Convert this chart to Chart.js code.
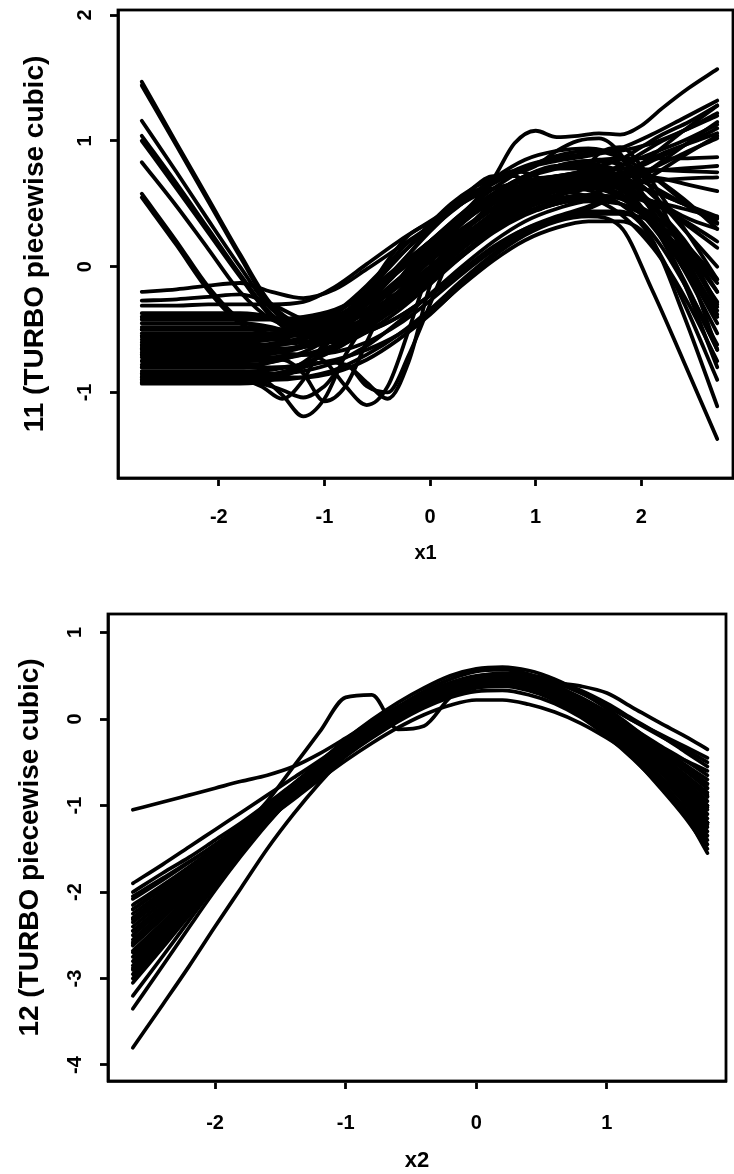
<!DOCTYPE html>
<html><head><meta charset="utf-8">
<script src="https://cdn.jsdelivr.net/npm/chart.js@4.4.1/dist/chart.umd.min.js"></script>
<style>
html,body{margin:0;padding:0;background:#fff;}
#wrap{position:relative;width:734px;height:1174px;background:#fff;}
canvas{position:absolute;left:0;}
#c1{top:0;} #c2{top:590px;}
</style></head><body>
<div id="wrap"><canvas id="c1" width="734" height="590"></canvas><canvas id="c2" width="734" height="584"></canvas></div>
<script>
// ---------- Panel 1 : x1 ----------
const x1Grid = [-2.73,-2.4,-2.1,-1.8,-1.5,-1.2,-0.9,-0.6,-0.3,0,0.3,0.6,0.9,1.2,1.5,1.8,2.1,2.4,2.72];
const x1GridFine = [-2.73,-2.2,-1.8,-1.6,-1.4,-1.2,-1.0,-0.8,-0.6,-0.4,-0.2,0,0.2,0.4,0.6,0.8,1.0,1.2,1.4,1.6,1.8,2.0,2.2,2.45,2.72];
const f11HighStart = [
  [1.47,0.98,0.54,0.1,-0.3,-0.45,-0.42,-0.3,-0.12,0.08,0.28,0.46,0.58,0.65,0.68,0.7,0.78,0.9,1.02],
  [1.44,0.96,0.52,0.08,-0.33,-0.5,-0.5,-0.42,-0.26,-0.06,0.14,0.32,0.46,0.54,0.57,0.54,0.42,0.2,-0.1],
  [1.16,0.75,0.37,0.0,-0.34,-0.44,-0.36,-0.2,0.0,0.2,0.4,0.58,0.72,0.8,0.82,0.76,0.64,0.5,0.34],
  [1.04,0.66,0.3,-0.06,-0.38,-0.5,-0.46,-0.34,-0.16,0.04,0.24,0.42,0.56,0.64,0.66,0.62,0.48,0.22,-0.2],
  [1.0,0.62,0.27,-0.08,-0.4,-0.55,-0.55,-0.46,-0.3,-0.1,0.1,0.3,0.46,0.56,0.63,0.72,0.84,0.96,1.1],
  [0.83,0.48,0.14,-0.2,-0.42,-0.48,-0.4,-0.24,-0.04,0.17,0.38,0.56,0.7,0.78,0.8,0.72,0.5,0.14,-0.32],
  [0.58,0.2,-0.16,-0.42,-0.5,-0.52,-0.48,-0.37,-0.2,0.0,0.2,0.39,0.53,0.62,0.66,0.66,0.6,0.5,0.38],
  [0.55,0.17,-0.19,-0.45,-0.54,-0.6,-0.58,-0.48,-0.32,-0.12,0.08,0.27,0.41,0.5,0.54,0.5,0.36,0.08,-0.38]
];
const f11Band = [
  [-0.2,-0.18,-0.15,-0.13,-0.2,-0.25,-0.18,-0.02,0.15,0.32,0.5,0.66,0.78,0.84,0.88,0.94,1.05,1.18,1.32],
  [-0.27,-0.26,-0.24,-0.22,-0.3,-0.42,-0.48,-0.42,-0.28,-0.1,0.1,0.28,0.42,0.5,0.56,0.68,0.88,1.08,1.28],
  [-0.31,-0.31,-0.3,-0.3,-0.3,-0.28,-0.16,0.02,0.2,0.36,0.52,0.68,0.8,0.86,0.9,0.92,0.98,1.08,1.2],
  [-0.37,-0.37,-0.37,-0.37,-0.4,-0.48,-0.52,-0.45,-0.3,-0.1,0.1,0.28,0.42,0.5,0.54,0.55,0.52,0.46,0.39],
  [-0.42,-0.42,-0.42,-0.42,-0.42,-0.4,-0.34,-0.22,-0.04,0.16,0.35,0.52,0.65,0.72,0.75,0.72,0.58,0.3,0.0],
  [-0.45,-0.45,-0.45,-0.45,-0.48,-0.55,-0.58,-0.52,-0.4,-0.23,-0.04,0.15,0.3,0.4,0.48,0.6,0.78,0.96,1.15],
  [-0.5,-0.5,-0.5,-0.5,-0.5,-0.47,-0.37,-0.2,0.0,0.2,0.4,0.58,0.72,0.8,0.8,0.7,0.45,0.05,-0.35],
  [-0.53,-0.53,-0.53,-0.53,-0.53,-0.52,-0.45,-0.3,-0.1,0.1,0.3,0.47,0.6,0.68,0.72,0.74,0.76,0.78,0.8],
  [-0.56,-0.56,-0.56,-0.56,-0.58,-0.6,-0.6,-0.52,-0.4,-0.23,-0.03,0.16,0.3,0.38,0.42,0.42,0.36,0.18,-0.13],
  [-0.6,-0.6,-0.6,-0.6,-0.58,-0.52,-0.38,-0.16,0.08,0.3,0.5,0.7,0.85,0.92,0.94,0.88,0.72,0.52,0.35],
  [-0.63,-0.63,-0.63,-0.63,-0.62,-0.6,-0.53,-0.4,-0.22,-0.02,0.18,0.37,0.52,0.62,0.66,0.64,0.5,0.18,-0.3],
  [-0.66,-0.66,-0.66,-0.66,-0.68,-0.7,-0.68,-0.6,-0.46,-0.27,-0.06,0.13,0.28,0.38,0.46,0.58,0.72,0.88,1.04],
  [-0.7,-0.7,-0.7,-0.7,-0.68,-0.62,-0.5,-0.34,-0.15,0.06,0.27,0.46,0.61,0.7,0.72,0.62,0.36,-0.02,-0.53],
  [-0.72,-0.72,-0.72,-0.72,-0.72,-0.7,-0.64,-0.52,-0.35,-0.14,0.08,0.28,0.43,0.52,0.56,0.56,0.5,0.37,0.2],
  [-0.75,-0.75,-0.75,-0.75,-0.74,-0.7,-0.62,-0.48,-0.3,-0.08,0.14,0.34,0.5,0.6,0.62,0.56,0.34,-0.1,-0.66],
  [-0.78,-0.78,-0.78,-0.78,-0.76,-0.68,-0.54,-0.34,-0.1,0.14,0.36,0.56,0.71,0.8,0.84,0.86,0.86,0.86,0.87],
  [-0.8,-0.8,-0.8,-0.8,-0.8,-0.78,-0.74,-0.66,-0.54,-0.37,-0.15,0.05,0.21,0.31,0.36,0.36,0.2,-0.28,-0.9],
  [-0.83,-0.83,-0.83,-0.83,-0.82,-0.77,-0.66,-0.5,-0.3,-0.08,0.14,0.35,0.5,0.6,0.64,0.62,0.52,0.35,0.15],
  [-0.85,-0.85,-0.85,-0.85,-0.85,-0.83,-0.76,-0.63,-0.44,-0.22,0.0,0.2,0.36,0.46,0.52,0.5,0.36,0.02,-0.45],
  [-0.88,-0.88,-0.88,-0.88,-0.86,-0.78,-0.64,-0.45,-0.22,0.0,0.22,0.43,0.6,0.71,0.76,0.78,0.77,0.76,0.75],
  [-0.9,-0.9,-0.9,-0.9,-0.9,-0.88,-0.82,-0.7,-0.54,-0.34,-0.11,0.1,0.27,0.38,0.44,0.44,0.22,-0.38,-1.11],
  [-0.93,-0.93,-0.93,-0.93,-0.9,-0.8,-0.62,-0.38,-0.12,0.12,0.34,0.54,0.7,0.8,0.84,0.82,0.72,0.54,0.3],
  [-0.68,-0.68,-0.68,-0.68,-0.67,-0.64,-0.56,-0.42,-0.23,-0.01,0.21,0.4,0.55,0.64,0.7,0.8,0.9,1.0,1.13],
  [-0.48,-0.48,-0.48,-0.48,-0.5,-0.54,-0.52,-0.42,-0.25,-0.05,0.15,0.34,0.48,0.57,0.62,0.65,0.68,0.7,0.71],
  [-0.58,-0.58,-0.58,-0.58,-0.57,-0.53,-0.42,-0.24,-0.02,0.2,0.4,0.58,0.71,0.78,0.78,0.66,0.36,-0.12,-0.8],
  [-0.87,-0.87,-0.87,-0.87,-0.88,-0.88,-0.84,-0.74,-0.58,-0.38,-0.14,0.08,0.25,0.36,0.4,0.32,-0.18,-0.75,-1.37],
  [-0.4,-0.4,-0.4,-0.4,-0.41,-0.42,-0.35,-0.21,-0.02,0.18,0.37,0.54,0.66,0.72,0.73,0.66,0.48,0.16,-0.2],
  [-0.65,-0.65,-0.65,-0.65,-0.65,-0.64,-0.58,-0.46,-0.28,-0.06,0.16,0.35,0.5,0.6,0.64,0.64,0.6,0.5,0.4],
  [-0.92,-0.92,-0.92,-0.92,-0.88,-0.76,-0.56,-0.3,-0.04,0.2,0.42,0.62,0.78,0.88,0.92,0.86,0.62,0.08,-0.66]
];
const f11Wiggly = [
  [-0.85,-0.85,-0.85,-0.88,-1.02,-1.19,-1.05,-0.7,-0.45,-0.3,-0.12,0.05,0.25,0.42,0.52,0.58,0.62,0.64,0.66,0.64,0.58,0.46,0.3,0.05,-0.28],
  [-0.9,-0.9,-0.9,-0.95,-1.05,-0.9,-0.6,-0.5,-0.45,-0.3,-0.1,0.1,0.28,0.45,0.56,0.62,0.66,0.68,0.7,0.74,0.8,0.9,1.0,1.1,1.22],
  [-0.8,-0.8,-0.8,-0.78,-0.74,-0.85,-1.07,-0.95,-0.6,-0.25,0.0,0.15,0.3,0.42,0.5,0.56,0.6,0.62,0.62,0.58,0.5,0.36,0.15,-0.2,-0.62],
  [-0.75,-0.75,-0.75,-0.74,-0.72,-0.7,-0.75,-0.95,-1.1,-0.95,-0.5,0.0,0.3,0.45,0.54,0.6,0.64,0.66,0.68,0.7,0.72,0.72,0.7,0.65,0.6],
  [-0.88,-0.88,-0.88,-0.87,-0.84,-0.8,-0.76,-0.78,-0.92,-1.05,-0.75,-0.15,0.25,0.46,0.55,0.58,0.6,0.6,0.58,0.52,0.42,0.26,0.05,-0.3,-0.75],
  [-0.65,-0.65,-0.65,-0.64,-0.62,-0.58,-0.5,-0.4,-0.28,-0.12,0.05,0.2,0.35,0.5,0.7,0.98,1.08,1.03,1.04,1.06,1.05,1.12,1.26,1.42,1.57],
  [-0.92,-0.92,-0.92,-0.93,-0.98,-1.04,-0.95,-0.78,-0.95,-1.0,-0.7,-0.3,0.1,0.35,0.5,0.58,0.62,0.64,0.65,0.62,0.55,0.42,0.22,-0.05,-0.4],
  [-0.55,-0.55,-0.55,-0.55,-0.55,-0.54,-0.48,-0.38,-0.25,-0.08,0.1,0.28,0.44,0.58,0.68,0.74,0.8,0.92,1.0,1.02,0.9,0.6,0.25,-0.2,-0.66],
  [-0.4,-0.4,-0.4,-0.4,-0.42,-0.45,-0.45,-0.38,-0.2,0.05,0.25,0.35,0.45,0.55,0.62,0.66,0.7,0.72,0.75,0.8,0.85,0.95,1.05,1.15,1.28],
  [-0.62,-0.62,-0.62,-0.62,-0.6,-0.56,-0.48,-0.36,-0.2,-0.02,0.16,0.34,0.5,0.62,0.7,0.76,0.72,0.62,0.7,0.9,0.95,0.8,0.55,0.25,-0.1],
  [-0.7,-0.7,-0.7,-0.7,-0.68,-0.64,-0.56,-0.44,-0.28,-0.1,0.1,0.3,0.48,0.6,0.62,0.52,0.45,0.55,0.75,0.85,0.8,0.65,0.5,0.38,0.3],
  [-0.5,-0.5,-0.5,-0.5,-0.5,-0.48,-0.42,-0.3,-0.15,0.02,0.2,0.3,0.45,0.62,0.72,0.72,0.62,0.52,0.52,0.6,0.72,0.82,0.9,0.98,1.06]
];
const x1Ticks = [-2,-1,0,1,2];
const y1Ticks = [-1,0,1,2];

// ---------- Panel 2 : x2 ----------
const x2Grid = [-2.63,-2.4,-2.2,-2.0,-1.8,-1.6,-1.4,-1.2,-1.0,-0.8,-0.6,-0.4,-0.2,0,0.2,0.4,0.6,0.8,1.0,1.2,1.4,1.6,1.77];
const f12Curves = [
  [-2.0,-1.78,-1.6,-1.4,-1.2,-0.98,-0.75,-0.52,-0.28,-0.07,0.12,0.28,0.4,0.47,0.49,0.45,0.36,0.22,0.05,-0.14,-0.33,-0.48,-0.6],
  [-2.08,-1.86,-1.66,-1.45,-1.23,-1.0,-0.76,-0.52,-0.29,-0.08,0.1,0.26,0.38,0.45,0.46,0.41,0.31,0.16,-0.02,-0.23,-0.46,-0.72,-0.95],
  [-2.15,-1.92,-1.71,-1.49,-1.26,-1.03,-0.79,-0.55,-0.32,-0.1,0.09,0.25,0.37,0.44,0.45,0.4,0.29,0.13,-0.06,-0.3,-0.58,-0.9,-1.2],
  [-2.25,-2.0,-1.77,-1.53,-1.29,-1.05,-0.8,-0.56,-0.33,-0.12,0.07,0.23,0.36,0.45,0.48,0.45,0.37,0.24,0.07,-0.13,-0.36,-0.6,-0.8],
  [-2.32,-2.05,-1.81,-1.57,-1.32,-1.07,-0.82,-0.58,-0.35,-0.13,0.06,0.22,0.35,0.43,0.45,0.41,0.31,0.16,-0.03,-0.26,-0.52,-0.8,-1.05],
  [-2.4,-2.12,-1.87,-1.61,-1.35,-1.09,-0.83,-0.58,-0.34,-0.12,0.08,0.25,0.38,0.47,0.51,0.49,0.42,0.3,0.15,-0.02,-0.17,-0.32,-0.45],
  [-2.45,-2.16,-1.9,-1.64,-1.37,-1.1,-0.84,-0.59,-0.36,-0.15,0.04,0.2,0.33,0.41,0.43,0.38,0.27,0.1,-0.1,-0.35,-0.65,-0.98,-1.3],
  [-2.5,-2.2,-1.93,-1.66,-1.38,-1.1,-0.83,-0.57,-0.33,-0.11,0.09,0.26,0.39,0.47,0.5,0.46,0.37,0.23,0.06,-0.13,-0.33,-0.53,-0.7],
  [-2.55,-2.24,-1.96,-1.68,-1.4,-1.12,-0.85,-0.6,-0.37,-0.16,0.03,0.19,0.32,0.4,0.42,0.38,0.28,0.12,-0.08,-0.32,-0.6,-0.88,-1.15],
  [-2.62,-2.3,-2.01,-1.72,-1.43,-1.14,-0.86,-0.6,-0.36,-0.14,0.06,0.23,0.36,0.44,0.46,0.42,0.33,0.18,0.0,-0.22,-0.45,-0.68,-0.9],
  [-2.68,-2.35,-2.05,-1.75,-1.45,-1.15,-0.86,-0.59,-0.35,-0.14,0.05,0.21,0.33,0.4,0.41,0.35,0.24,0.07,-0.14,-0.4,-0.7,-1.05,-1.4],
  [-2.75,-2.4,-2.09,-1.78,-1.47,-1.17,-0.88,-0.61,-0.37,-0.15,0.05,0.22,0.36,0.46,0.51,0.5,0.44,0.33,0.18,0.0,-0.18,-0.38,-0.55],
  [-2.8,-2.44,-2.12,-1.8,-1.49,-1.18,-0.88,-0.61,-0.37,-0.16,0.03,0.19,0.32,0.41,0.44,0.4,0.3,0.15,-0.04,-0.27,-0.52,-0.77,-1.0],
  [-2.88,-2.5,-2.16,-1.83,-1.5,-1.18,-0.88,-0.61,-0.37,-0.16,0.03,0.19,0.31,0.39,0.41,0.36,0.25,0.08,-0.13,-0.38,-0.66,-0.96,-1.25],
  [-2.95,-2.56,-2.21,-1.86,-1.52,-1.19,-0.88,-0.6,-0.35,-0.13,0.07,0.24,0.38,0.47,0.5,0.47,0.38,0.24,0.06,-0.14,-0.36,-0.56,-0.75],
  [-3.0,-2.6,-2.24,-1.88,-1.53,-1.19,-0.88,-0.6,-0.35,-0.13,0.06,0.22,0.35,0.43,0.45,0.41,0.31,0.15,-0.05,-0.29,-0.56,-0.84,-1.1],
  [-3.2,-2.74,-2.33,-1.93,-1.55,-1.2,-0.88,-0.6,-0.35,-0.13,0.07,0.23,0.36,0.44,0.47,0.43,0.34,0.19,0.01,-0.2,-0.43,-0.65,-0.85],
  [-3.35,-2.85,-2.41,-1.98,-1.58,-1.21,-0.88,-0.59,-0.34,-0.13,0.05,0.2,0.32,0.39,0.4,0.34,0.22,0.04,-0.18,-0.45,-0.78,-1.14,-1.5],
  [-3.8,-3.3,-2.86,-2.4,-1.95,-1.5,-1.1,-0.74,-0.42,-0.17,0.03,0.2,0.33,0.41,0.43,0.38,0.28,0.12,-0.07,-0.3,-0.55,-0.8,-1.02],
  [-1.05,-0.96,-0.88,-0.8,-0.72,-0.65,-0.55,-0.4,-0.22,-0.03,0.14,0.28,0.39,0.46,0.48,0.44,0.35,0.21,0.03,-0.17,-0.38,-0.58,-0.75],
  [-1.9,-1.68,-1.48,-1.28,-1.08,-0.88,-0.68,-0.48,-0.27,-0.07,0.11,0.27,0.39,0.46,0.48,0.44,0.35,0.2,0.02,-0.2,-0.44,-0.68,-0.9],
  [-2.3,-2.03,-1.79,-1.55,-1.28,-0.95,-0.55,-0.15,0.25,0.28,-0.12,-0.08,0.25,0.42,0.47,0.44,0.36,0.22,0.05,-0.16,-0.4,-0.65,-0.88],
  [-2.2,-1.95,-1.72,-1.49,-1.25,-1.0,-0.75,-0.5,-0.26,-0.05,0.14,0.3,0.42,0.5,0.52,0.48,0.42,0.38,0.3,0.13,-0.04,-0.2,-0.35],
  [-2.6,-2.28,-1.99,-1.7,-1.42,-1.13,-0.85,-0.59,-0.35,-0.14,0.05,0.21,0.34,0.42,0.44,0.4,0.3,0.14,-0.06,-0.33,-0.68,-1.1,-1.55],
  [-2.2,-1.96,-1.74,-1.52,-1.29,-1.05,-0.81,-0.57,-0.34,-0.12,0.07,0.23,0.35,0.43,0.45,0.41,0.31,0.16,-0.03,-0.26,-0.5,-0.76,-1.0],
  [-2.7,-2.36,-2.06,-1.76,-1.46,-1.16,-0.87,-0.6,-0.35,-0.12,0.08,0.25,0.38,0.46,0.49,0.46,0.38,0.25,0.08,-0.11,-0.3,-0.48,-0.65],
  [-2.9,-2.52,-2.18,-1.84,-1.51,-1.19,-0.89,-0.62,-0.38,-0.17,0.02,0.18,0.3,0.38,0.39,0.34,0.23,0.06,-0.16,-0.42,-0.72,-1.03,-1.35],
  [-2.35,-2.08,-1.84,-1.59,-1.34,-1.08,-0.82,-0.57,-0.33,-0.11,0.09,0.26,0.4,0.49,0.53,0.51,0.44,0.32,0.16,-0.02,-0.19,-0.35,-0.5],
  [-3.05,-2.64,-2.27,-1.9,-1.54,-1.19,-0.87,-0.59,-0.34,-0.12,0.07,0.23,0.35,0.42,0.44,0.39,0.28,0.12,-0.08,-0.33,-0.6,-0.9,-1.2],
  [-2.58,-2.26,-1.97,-1.68,-1.38,-1.08,-0.78,-0.5,-0.24,-0.01,0.19,0.36,0.5,0.58,0.6,0.56,0.46,0.31,0.12,-0.1,-0.34,-0.58,-0.8],
  [-2.45,-2.17,-1.93,-1.68,-1.43,-1.17,-0.91,-0.66,-0.43,-0.22,-0.03,0.13,0.25,0.32,0.33,0.28,0.18,0.02,-0.2,-0.46,-0.76,-1.1,-1.45],
  [-2.3,-2.05,-1.83,-1.61,-1.39,-1.16,-0.93,-0.7,-0.48,-0.28,-0.1,0.05,0.16,0.22,0.22,0.17,0.08,-0.05,-0.22,-0.42,-0.66,-0.93,-1.2],
  [-2.85,-2.48,-2.15,-1.82,-1.5,-1.18,-0.87,-0.58,-0.31,-0.07,0.14,0.32,0.46,0.55,0.57,0.52,0.4,0.22,-0.01,-0.28,-0.58,-0.9,-1.22],
  [-2.05,-1.84,-1.65,-1.46,-1.26,-1.05,-0.83,-0.61,-0.4,-0.2,-0.01,0.15,0.28,0.36,0.38,0.33,0.22,0.05,-0.16,-0.4,-0.66,-0.94,-1.2]
];
const x2Ticks = [-2,-1,0,1];
const y2Ticks = [-4,-3,-2,-1,0,1];

const titleX1 = 'x1', titleX2 = 'x2';
const titleY1 = '11 (TURBO piecewise cubic)', titleY2 = '12 (TURBO piecewise cubic)';

// ---------- helpers ----------
const FONT = '"Liberation Sans", Arial, Helvetica, sans-serif';
function toDatasets(grid, curves, w){
  return curves.map(c => ({
    data: grid.map((x,i)=>({x:x, y:c[i]})),
    borderColor:'#000', borderWidth:w, pointRadius:0, fill:false,
    cubicInterpolationMode:'monotone', borderCapStyle:'round', borderJoinStyle:'round'
  }));
}
const boxPlugin = { id:'box', afterDatasetsDraw(chart){
  const {ctx, chartArea:a} = chart; ctx.save(); ctx.lineWidth=2.8; ctx.strokeStyle='#000';
  ctx.strokeRect(a.left, a.top, a.right-a.left, a.bottom-a.top); ctx.restore(); } };

function makeChart(id, cfg){
  return new Chart(document.getElementById(id), {
    type:'line',
    data:{ datasets: cfg.datasets },
    options:{
      responsive:false, animation:false, devicePixelRatio:1,
      layout:{ padding: cfg.pad },
      plugins:{ legend:{display:false}, tooltip:{enabled:false} },
      scales:{
        x:{ type:'linear', position:'bottom', min:cfg.xmin, max:cfg.xmax,
            afterFit:s=>{ s.height = cfg.xh; s.paddingLeft = 0; s.paddingRight = 0; },
            afterBuildTicks:s=>{ s.ticks = cfg.xticks.map(v=>({value:v})); },
            ticks:{ color:'#000', font:{family:FONT, size:20, weight:'bold'}, padding:cfg.xtp, autoSkip:false, maxRotation:0 },
            grid:{ drawOnChartArea:false, drawTicks:true, tickLength:8, tickWidth:2.8, tickColor:'#000' },
            border:{ display:true, color:'#000', width:2.8 },
            title:{ display:true, text:cfg.xtitle, color:'#000', font:{family:FONT, size:cfg.xts, weight:'bold'}, padding:{top:0,bottom:cfg.xtb} } },
        y:{ type:'linear', position:'left', min:cfg.ymin, max:cfg.ymax,
            afterFit:s=>{ s.width = cfg.yw; s.paddingTop = 0; s.paddingBottom = 0; },
            afterBuildTicks:s=>{ s.ticks = cfg.yticks.map(v=>({value:v})); },
            ticks:{ color:'#000', font:{family:FONT, size:20, weight:'bold'}, padding:cfg.ytp, autoSkip:false, minRotation:90, maxRotation:90, crossAlign:'center' },
            grid:{ drawOnChartArea:false, drawTicks:true, tickLength:8, tickWidth:2.8, tickColor:'#000' },
            border:{ display:true, color:'#000', width:2.8 },
            title:{ display:true, text:cfg.ytitle, color:'#000', font:{family:FONT, size:28, weight:'bold'}, padding:{top:cfg.ytt,bottom:0} } }
      }
    },
    plugins:[boxPlugin]
  });
}

makeChart('c1', {
  datasets: toDatasets(x1Grid, f11HighStart, 3.8).concat(toDatasets(x1Grid, f11Band, 3.8), toDatasets(x1GridFine, f11Wiggly, 3.8)),
  pad:{top:10, right:1, left:0, bottom:0},
  xmin:-2.955, xmax:2.869, ymin:-1.68, ymax:2.04,
  xh:112, yw:118, xticks:x1Ticks, yticks:y1Ticks,
  xtp:19, xtitle:titleX1, xts:20, xtb:25,
  ytp:16, ytitle:titleY1, ytt:18
});
makeChart('c2', {
  datasets: toDatasets(x2Grid, f12Curves, 3.7),
  pad:{top:24, right:8, left:0, bottom:0},
  xmin:-2.82, xmax:1.912, ymin:-4.185, ymax:1.214,
  xh:93, yw:108, xticks:x2Ticks, yticks:y2Ticks,
  xtp:22, xtitle:titleX2, xts:22, xtb:0,
  ytp:16, ytitle:titleY2, ytt:13
});
</script></body></html>
